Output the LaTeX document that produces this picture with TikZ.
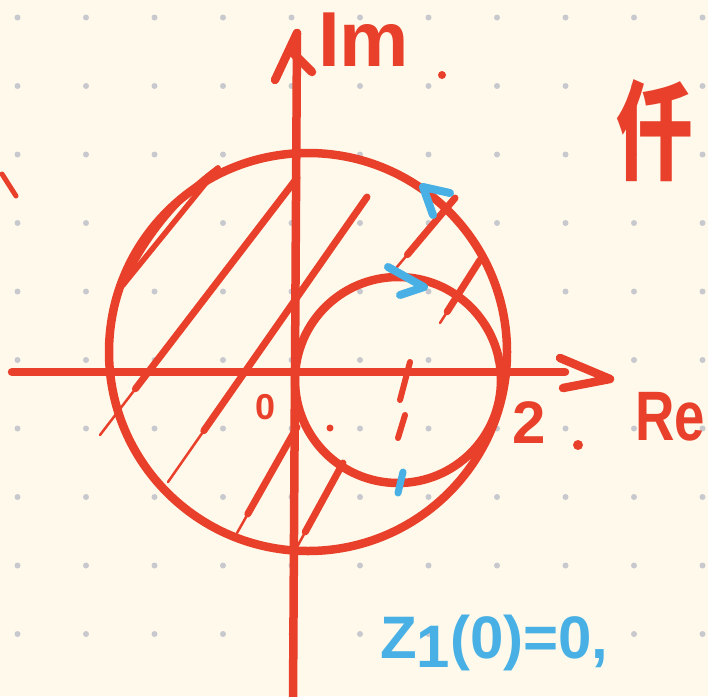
\documentclass[tikz,border=0pt]{standalone}
\usepackage{fontspec}
\setmainfont{Liberation Sans}
\newfontfamily\cjk{Noto Sans CJK SC}
\usetikzlibrary{calc}
\definecolor{pen}{RGB}{232,64,42}
\definecolor{bluepen}{RGB}{72,176,228}
\definecolor{paper}{RGB}{254,249,234}
\definecolor{griddot}{RGB}{200,201,206}

\begin{document}
\begin{tikzpicture}[
    x=1pt, y=-1pt,
    stroke/.style={draw=pen, line width=8.5pt, line cap=round, line join=round},
    hatch/.style={draw=pen, line width=7pt, line cap=round},
    tail/.style={draw=pen, line width=2.5pt, line cap=round},
    bluestroke/.style={draw=bluepen, line width=8pt, line cap=round, line join=round},
    every node/.style={inner sep=0pt, text=pen, font=\bfseries}
]
\path[use as bounding box, fill=paper] (0,0) rectangle (708,696);
% dotted paper
\foreach \i in {0,...,10}
  \foreach \j in {0,...,10}
    \fill[griddot] ({17.5+68.5*\i},{17.5+68.5*\j}) circle (3);

% circles
\coordinate (bigc) at (308,352);
\coordinate (smallc) at (398,380);
\draw[stroke] (bigc) circle (199);
\draw[stroke] (smallc) circle (103);

% hatching
\foreach \xa/\ya/\xb/\yb in {100/435/297/178, 168/482/367/197, 237/533/297/427,
                             297/547/343/463, 397/267/455/198, 440/323/480/260} {
  \draw[tail] (\xa,\ya) -- ($(\xa,\ya)!0.22!(\xb,\yb)$);
  \draw[hatch] ($(\xa,\ya)!0.18!(\xb,\yb)$) -- (\xb,\yb);
}
\draw[hatch, line width=5.5pt] (123,285) -- (218,168);
\draw[hatch, line width=5.5pt] (123,285) .. controls (145,238) and (176,199) .. (218,168);
\draw[hatch, line width=5pt] (2,174) -- (16,196);

% axes
\coordinate (reL) at (12,372);
\coordinate (reR) at (565,372);
\coordinate (imB) at (293,700);
\coordinate (imT) at (297,33);
\draw[stroke] (reL) -- (reR);
\draw[stroke] (560,358) -- (610,379) -- (563,388);
\draw[stroke] (imB) -- (imT);
\draw[stroke] (275,80) -- (imT);
\draw[stroke] (292,52) -- (312,72);

% marks at 1
\draw[stroke, line width=6pt] (410,362) -- (400,400);
\draw[stroke, line width=6pt] (405,415) -- (398,438);
\draw[bluestroke, line width=7pt] (403,472) -- (398,493);

% labels
\node (im) [anchor=base west, font=\bfseries\fontsize{78}{78}\selectfont] at (318,66) {Im};
\node (re) [anchor=base west, font=\bfseries\fontsize{70}{70}\selectfont] at (635,440) {\scalebox{0.78}[1]{Re}};
\node (two) [anchor=base west, font=\bfseries\fontsize{60}{60}\selectfont] at (512,443) {2};
\node (orig) [font=\bfseries\fontsize{36}{36}\selectfont] at (266,407) {0};
\node (note) [font=\bfseries\fontsize{90}{90}\selectfont] at (655,131) {\scalebox{0.85}[1.2]{\cjk 仟}};
\fill[pen] (442,75) circle (4);
\fill[pen] (578,445) circle (5);
\fill[pen] (330,428) circle (3.5);

% orientation arrows
\draw[bluestroke] (450,193) -- (423,187) -- (433,215);
\draw[bluestroke] (388,267) -- (424,287) -- (400,295);
\node (zval) [anchor=base west, text=bluepen, font=\bfseries\fontsize{60}{60}\selectfont] at (380,658) {Z\raisebox{-9pt}{1}(0)=0,};
\end{tikzpicture}
\end{document}
